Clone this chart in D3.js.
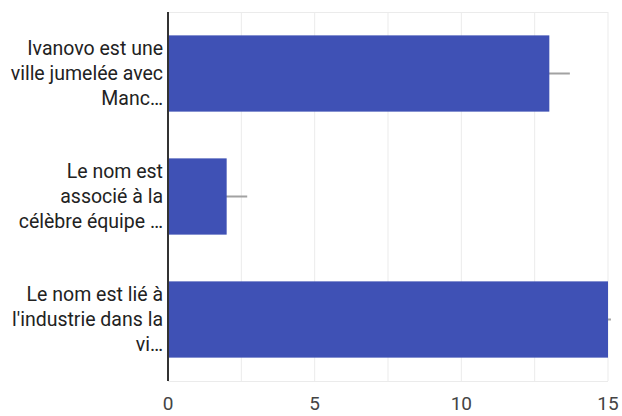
<!DOCTYPE html>
<html><head><meta charset="utf-8">
<script src="https://cdn.jsdelivr.net/npm/d3@7"></script>
<style>body{margin:0;background:#fff}svg{display:block}text{font-family:Roboto,"Noto Sans",sans-serif}</style>
</head><body>
<script>
const categories = [
  ["Ivanovo est une", "ville jumelée avec", "Manc…"],
  ["Le nom est", "associé à la", "célèbre équipe …"],
  ["Le nom est lié à", "l'industrie dans la", "vi…"]
];
const values = [13, 2, 15];
const errors = [0.7, 0.7, 0.1];
const xTicks = [0, 5, 10, 15];
const gridTicks = [0, 2.5, 5, 7.5, 10, 12.5, 15];

const W = 622, H = 416;
const m = {left: 168, right: 14, top: 12, bottom: 35};
const svg = d3.select("body").append("svg").attr("width", W).attr("height", H);
const x = d3.scaleLinear().domain([0, 15]).range([m.left, W - m.right]);
const y = d3.scaleBand().domain(d3.range(values.length)).range([m.top, H - m.bottom]).paddingInner(0.38).paddingOuter(0.19);

// grid
svg.append("g").selectAll("line").data(gridTicks).join("line")
  .attr("x1", d => x(d)).attr("x2", d => x(d))
  .attr("y1", m.top).attr("y2", H - m.bottom)
  .attr("stroke", "#ebebeb").attr("stroke-width", 1);
svg.append("line").attr("x1", m.left).attr("x2", x(15)).attr("y1", m.top + 0.5).attr("y2", m.top + 0.5).attr("stroke", "#ebebeb");
svg.append("line").attr("x1", m.left).attr("x2", x(15)).attr("y1", H - m.bottom + 0.5).attr("y2", H - m.bottom + 0.5).attr("stroke", "#ebebeb");

// error bars
svg.append("g").selectAll("line").data(values).join("line")
  .attr("x1", (d, i) => x(d - errors[i])).attr("x2", (d, i) => x(d + errors[i]))
  .attr("y1", (d, i) => y(i) + y.bandwidth() / 2).attr("y2", (d, i) => y(i) + y.bandwidth() / 2)
  .attr("stroke", "#999").attr("stroke-width", 2).attr("opacity", 0.9);

// bars
svg.append("g").selectAll("rect").data(values).join("rect")
  .attr("x", x(0)).attr("y", (d, i) => y(i))
  .attr("width", d => x(d) - x(0)).attr("height", y.bandwidth())
  .attr("fill", "#3f51b5");

// axis line
svg.append("line").attr("x1", x(0)).attr("x2", x(0)).attr("y1", m.top).attr("y2", H - m.bottom)
  .attr("stroke", "#333").attr("stroke-width", 2);

// category labels
const lab = svg.append("g").selectAll("text").data(categories).join("text")
  .attr("text-anchor", "end").attr("font-size", 19.5).attr("fill", "#222");
lab.each(function(lines, i) {
  const cy = y(i) + y.bandwidth() / 2;
  const lh = 25;
  d3.select(this).selectAll("tspan").data(lines).join("tspan")
    .attr("x", m.left - 5)
    .attr("y", (d, j) => cy + (j - (lines.length - 1) / 2) * lh)
    .attr("dy", "0.35em").text(d => d);
});

// x tick labels
svg.append("g").selectAll("text").data(xTicks).join("text")
  .attr("x", d => x(d)).attr("y", 403).attr("dy", "0.35em")
  .attr("text-anchor", "middle").attr("font-size", 19).attr("fill", "#444")
  .text(d => d);
</script>
</body></html>
